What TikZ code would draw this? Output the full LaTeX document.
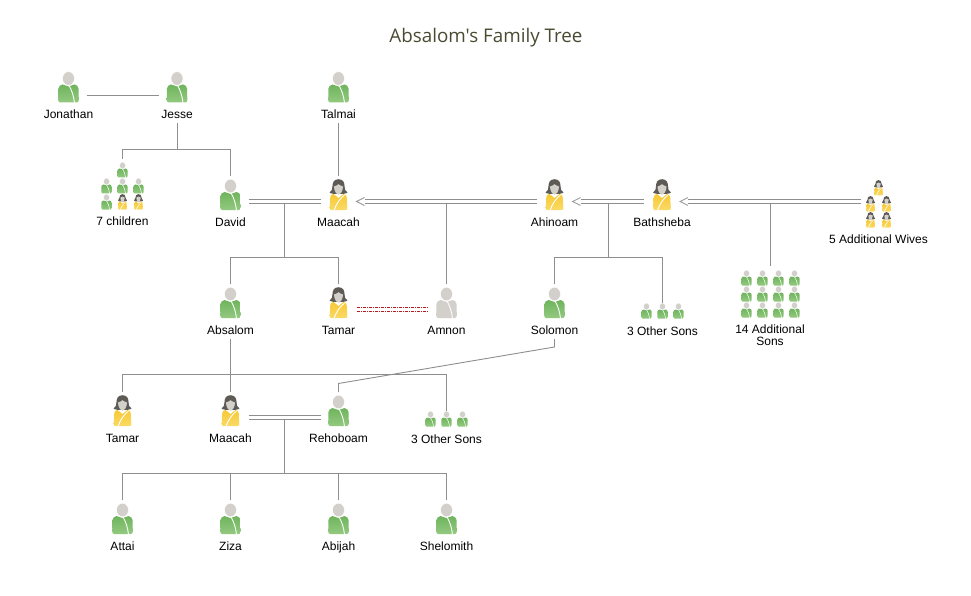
\documentclass[tikz,border=0pt]{standalone}
\usepackage{fontspec}
\setmainfont{Liberation Sans}
\newfontfamily\titlefont{Open Sans}
\usetikzlibrary{calc}
\definecolor{linegray}{HTML}{8C8F8C}
\definecolor{arrowgray}{HTML}{9A9D9A}
\definecolor{headgray}{HTML}{D3D0CB}
\definecolor{hair}{HTML}{5E5A55}
\definecolor{greentop}{HTML}{6FB45C}
\definecolor{greenbot}{HTML}{93C980}
\definecolor{yellowtop}{HTML}{F7C935}
\definecolor{yellowbot}{HTML}{FAD965}
\definecolor{titlecol}{HTML}{4A4A32}
\definecolor{incest}{HTML}{B01E24}
\newcommand{\manshape}[2]{%
  \path[#1] (-6,6) -- (-8.8,7.4) .. controls (-9.8,7.8) and (-10.1,8.8) .. (-10.1,10)
    -- (-10.3,21.5) .. controls (-10.3,23.2) and (-9.4,24) .. (-8.2,24)
    -- (8.2,24) .. controls (9.4,24) and (10.3,23.2) .. (10.3,21.5)
    -- (10.1,10) .. controls (10.1,8.8) and (9.8,7.8) .. (8.8,7.4) -- (6,6) -- (0,8) -- cycle;
  \draw[white,line width=#2] (0,6) .. controls (3,11) and (5.2,17) .. (6,24.5);
  \path[fill=headgray,draw=white,line width=#2/2] (0,0) ellipse [x radius=6, y radius=6.8];
}
\newcommand{\womanshape}[1]{%
  \path[top color=yellowtop,bottom color=yellowbot]
    (-5,8) -- (-7.2,9) .. controls (-8,9.4) and (-8.2,10) .. (-8.2,11)
    -- (-8.8,22) .. controls (-8.8,23.4) and (-8,24) .. (-7,24)
    -- (7,24) .. controls (8,24) and (8.8,23.4) .. (8.8,22)
    -- (8.2,11) .. controls (8.2,10) and (8,9.4) .. (7.2,9) -- (5,8) -- (0,12) -- cycle;
  \draw[white,line width=#1] (6,9) .. controls (2,12) and (-2.5,18) .. (-4.5,24.5);
  \path[fill=hair] (0,-6.8) .. controls (-4.5,-6.8) and (-6,-3.5) .. (-6,0)
    .. controls (-6,3) and (-6.5,5) .. (-9,6.6) .. controls (-7.5,7.9) and (-3,8) .. (0,8)
    .. controls (3,8) and (7.5,7.9) .. (9,6.6) .. controls (6.5,5) and (6,3) .. (6,0)
    .. controls (6,-3.5) and (4.5,-6.8) .. (0,-6.8) -- cycle;
  \path[fill=headgray] (0,-1.8) .. controls (-1,-.8) and (-3,0) .. (-4.5,.5)
    .. controls (-4.5,5) and (-2,8.6) .. (0,8.6) .. controls (2,8.6) and (4.5,5) .. (4.5,.5)
    .. controls (3,0) and (1,-.8) .. (0,-1.8) -- cycle;
}
\tikzset{
  x=1pt,y=-1pt,
  conn/.style={draw=linegray,line width=.9pt},
  dbl/.style={draw=linegray,line width=.9pt,double=white,double distance=3.1pt},
  tip/.style={draw=arrowgray,line width=.9pt},
  incestline/.style={draw=incest,line width=.9pt,dash pattern=on 3pt off 1pt on 1pt off 1pt},
  label/.style={font=\fontsize{12}{12.7}\selectfont,text=black,align=center,inner sep=0pt,anchor=base},
  greenbody/.style={top color=greentop,bottom color=greenbot},
  manicon/.pic={\manshape{greenbody}{.9pt}},
  grayicon/.pic={\manshape{fill=headgray}{.9pt}},
  womanicon/.pic={\womanshape{.9pt}},
  miniman/.pic={\manshape{greenbody}{.5pt}},
  miniwoman/.pic={\womanshape{.5pt}},
}
% name, x, head y, pic, label
\newcommand{\person}[5]{%
  \pic at (#2,#3) {#4};
  \node[label] (#1) at (#2,#3+40) {#5};
  \coordinate (#1-t) at (#2,#3-10);
  \coordinate (#1-b) at (#2,#3+45);
  \coordinate (#1-l) at (#2-18,#3+15.5);
  \coordinate (#1-r) at (#2+18,#3+15.5);
}
\newcommand{\mini}[3]{\pic[scale=.5] at (#1,#2) {#3};}
\begin{document}
\begin{tikzpicture}
\useasboundingbox (0,0) rectangle (971,596);
\node[font=\titlefont\fontsize{18.8}{22}\selectfont,text=titlecol,inner sep=0pt,anchor=base] (title) at (486,42.5) {Absalom's Family Tree};

\person{jonathan}{68.5}{78.5}{manicon}{Jonathan}
\person{jesse}{177}{78.5}{manicon}{Jesse}
\person{talmai}{338.5}{78.5}{manicon}{Talmai}
\person{david}{230.5}{186}{manicon}{David}
\person{maacah}{338.5}{186}{womanicon}{Maacah}
\person{ahinoam}{554.5}{186}{womanicon}{Ahinoam}
\person{bathsheba}{662}{186}{womanicon}{Bathsheba}
\person{absalom}{230.5}{294}{manicon}{Absalom}
\person{tamar}{338.5}{294}{womanicon}{Tamar}
\person{amnon}{446.5}{294}{grayicon}{Amnon}
\person{solomon}{554.5}{294}{manicon}{Solomon}
\person{tamarb}{122.5}{402}{womanicon}{Tamar}
\person{maacahb}{230.5}{402}{womanicon}{Maacah}
\person{rehoboam}{338.5}{402}{manicon}{Rehoboam}
\person{attai}{122.5}{510}{manicon}{Attai}
\person{ziza}{230.5}{510}{manicon}{Ziza}
\person{abijah}{338.5}{510}{manicon}{Abijah}
\person{shelomith}{446.5}{510}{manicon}{Shelomith}

% 7 children
\mini{122.5}{165.5}{miniman}
\mini{106.5}{181.5}{miniman}\mini{122.5}{181.5}{miniman}\mini{138.5}{181.5}{miniman}
\mini{106.5}{197.5}{miniman}\mini{122.5}{197.5}{miniwoman}\mini{138.5}{197.5}{miniwoman}
\node[label] (kids) at (122.5,225) {7 children};
\coordinate (kids-t) at (122.5,159);

% 5 wives
\mini{878.5}{183.5}{miniwoman}
\mini{870.5}{199.5}{miniwoman}\mini{886.5}{199.5}{miniwoman}
\mini{870.5}{215.5}{miniwoman}\mini{886.5}{215.5}{miniwoman}
\node[label] (wives) at (878.5,243) {5 Additional Wives};
\coordinate (wives-l) at (860.5,201.5);

% 14 sons
\foreach \yy in {273.5,289.5,305.5}
  \foreach \xx in {746.5,762.5,778.5,794.5}
    {\mini{\xx}{\yy}{miniman}}
\node[label,anchor=center] (sons) at (770,335.3) {14 Additional\\Sons};
\coordinate (sons-t) at (770.5,266);

% 3 other sons (upper)
\foreach \xx in {646.5,662.5,678.5} {\mini{\xx}{306.5}{miniman}}
\node[label] (others) at (662.5,335) {3 Other Sons};
\coordinate (others-t) at (662.5,303);

% 3 other sons (lower)
\foreach \xx in {430.5,446.5,462.5} {\mini{\xx}{414.5}{miniman}}
\node[label] (othersb) at (446.5,443) {3 Other Sons};
\coordinate (othersb-t) at (446.5,411);

% bus coordinates
\coordinate (jessebus) at (177,149.5);
\coordinate (dmdrop) at (284.5,203);
\coordinate (dmbus) at (284.5,257.5);
\coordinate (amdrop) at (446.5,203);
\coordinate (absbus) at (230.5,374.5);
\coordinate (bsdrop) at (608.5,203);
\coordinate (bsbus) at (608.5,257.5);
\coordinate (sonsdrop) at (770.5,203);
\coordinate (rmdrop) at (284.5,419);
\coordinate (rmbus) at (284.5,473.5);
\coordinate (solbend) at (554.5,347);
\coordinate (rehbend) at (338.5,383.5);

% single connectors
\draw[conn] ($(jonathan-r)+(0,1)$) -- ($(jesse-l)+(0,1)$);
\draw[conn] (jesse-b) -- (jessebus);
\draw[conn] (kids-t) |- (jessebus) -| (david-t);
\draw[conn] (talmai-b) -- (maacah-t);
\draw[conn] (dmdrop) -- (dmbus);
\draw[conn] (absalom-t) |- (dmbus) -| (tamar-t);
\draw[conn] (amdrop) -- (amnon-t);
\draw[conn] (bsdrop) -- (bsbus);
\draw[conn] (solomon-t) |- (bsbus) -| (others-t);
\draw[conn] (sonsdrop) -- (sons-t);
\draw[conn] (absalom-b) -- (maacahb-t);
\draw[conn] (tamarb-t) |- (absbus) -| (othersb-t);
\draw[conn] (solomon-b) -- (solbend) -- (rehbend) -- (rehoboam-t);
\draw[conn] (rmdrop) -- (rmbus);
\draw[conn] (attai-t) |- (rmbus) -| (shelomith-t);
\draw[conn] (ziza-t) -- (ziza-t |- rmbus);
\draw[conn] (abijah-t) -- (abijah-t |- rmbus);

% double connectors
\draw[dbl] (david-r) -- (maacah-l);
\draw[dbl] (maacahb-r) -- (rehoboam-l);
\draw[dbl] ($(maacah-r)+(8,0)$) -- (ahinoam-l);
\draw[dbl] ($(ahinoam-r)+(8,0)$) -- (bathsheba-l);
\draw[dbl] ($(bathsheba-r)+(8,0)$) -- (wives-l);
\foreach \tp in {maacah-r,ahinoam-r,bathsheba-r}
  {\draw[tip] ($(\tp)+(8,-4)$) -- (\tp) -- ($(\tp)+(8,4)$);}

% relation of Tamar and Amnon
\draw[incestline] ($(tamar-r)+(0,-2)$) -- ($(amnon-l)+(0,-2)$);
\draw[incestline] ($(tamar-r)+(0,2)$) -- ($(amnon-l)+(0,2)$);
\end{tikzpicture}
\end{document}
